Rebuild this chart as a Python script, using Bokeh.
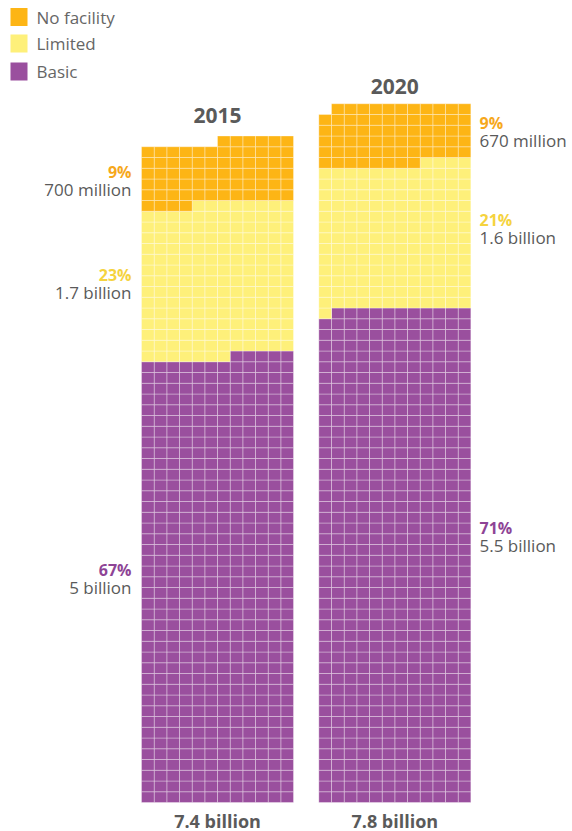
from bokeh.plotting import figure
from bokeh.models import Range1d, ColumnDataSource
from bokeh.embed import file_html
from bokeh.resources import INLINE
from bokeh.core.properties import value

# ---------------- data (one cell = 10 million people) ----------------
years = ["2015", "2020"]
totals = ["7.4 billion", "7.8 billion"]
categories = ["No facility", "Limited", "Basic"]
no_facility = [70, 67]
limited = [171, 161]
basic = [497, 551]
pct_no_facility = ["9%", "9%"]
pct_limited = ["23%", "21%"]
pct_basic = ["67%", "71%"]
pop_no_facility = ["700 million", "670 million"]
pop_limited = ["1.7 billion", "1.6 billion"]
pop_basic = ["5 billion", "5.5 billion"]

# ---------------- style ----------------
C_NOF = "#FDB515"
C_LIM = "#FEF07A"
C_BAS = "#9A4F9E"
T_NOF = "#F6A81C"
T_LIM = "#F5D33F"
T_BAS = "#8E4496"
GREY = "#5A5A5A"
FONT = "Open Sans"

FIG_W, FIG_H = 572, 831
ORIGIN = 0          # page offset of the figure
CW = 152 / 12.0     # px per cell horizontally
RH = 10.75          # px per cell vertically
PER_ROW = 12
GAP = 2             # columns between the two waffles

x_start = -(141 - ORIGIN) / CW
x_end = x_start + FIG_W / CW
y_start = -(ORIGIN + FIG_H - 802) / RH
y_end = y_start + FIG_H / RH


def px(xp):
    return x_start + (xp - ORIGIN) / CW


def py(yp):
    return (802 - yp) / RH


p = figure(width=FIG_W, height=FIG_H, output_backend="svg", toolbar_location=None,
           x_range=Range1d(x_start, x_end), y_range=Range1d(y_start, y_end),
           x_axis_location=None, y_axis_location=None, min_border=0,
           outline_line_color=None, background_fill_color="white")
p.grid.visible = False

# ---------------- waffle cells ----------------
xs, ys, cs = [], [], []
for j in range(len(years)):
    x0 = j * (PER_ROW + GAP)
    i = 0
    for count, col in ((basic[j], C_BAS), (limited[j], C_LIM), (no_facility[j], C_NOF)):
        for _ in range(count):
            row = i // PER_ROW
            k = i % PER_ROW
            xs.append(x0 + (PER_ROW - 1 - k) + 0.5)
            ys.append(row + 0.5)
            cs.append(col)
            i += 1

src = ColumnDataSource(dict(x=xs, y=ys, c=cs))
p.rect(x="x", y="y", width=1, height=1, source=src, fill_color="c",
       line_color="white", line_width=0.8, line_alpha=0.4)

# ---------------- titles and totals ----------------
col_centers = [j * (PER_ROW + GAP) + PER_ROW / 2 for j in range(len(years))]
title_y = [py(114.5), py(85.5)]
p.text(x=col_centers, y=title_y, text=years, text_align="center", text_baseline="middle",
       text_font=value(FONT), text_font_style="bold", text_font_size="21px", text_color=GREY)
p.text(x=col_centers, y=[py(820)] * 2, text=totals, text_align="center", text_baseline="middle",
       text_font=value(FONT), text_font_style="bold", text_font_size="18px", text_color=GREY)

# ---------------- segment labels ----------------
label_x = [px(131), px(479)]
aligns = ["right", "left"]
pct_y = [[171, 274, 569], [122, 219, 527]]
pops = [pop_no_facility, pop_limited, pop_basic]
pcts = [pct_no_facility, pct_limited, pct_basic]
tcols = [T_NOF, T_LIM, T_BAS]
for j in range(len(years)):
    for s in range(3):
        yp = pct_y[j][s]
        p.text(x=[label_x[j]], y=[py(yp)], text=[pcts[s][j]], text_align=aligns[j],
               text_baseline="middle", text_font=value(FONT), text_font_style="bold",
               text_font_size="16px", text_color=tcols[s])
        p.text(x=[label_x[j]], y=[py(yp + 17.5)], text=[pops[s][j]], text_align=aligns[j],
               text_baseline="middle", text_font=value(FONT), text_font_size="17px",
               text_color=GREY)

# ---------------- legend ----------------
leg_cols = [C_NOF, C_LIM, C_BAS]
leg_y = [py(16.5), py(43), py(71)]
p.rect(x=[px(18.5)] * 3, y=leg_y, width=17, height=18, width_units="screen",
       height_units="screen", fill_color=leg_cols, line_color=None)
p.text(x=[px(36)] * 3, y=leg_y, text=categories, text_align="left", text_baseline="middle",
       text_font=value(FONT), text_font_size="17px", text_color="#666666")

open("out.html", "w").write(file_html(p, INLINE))
